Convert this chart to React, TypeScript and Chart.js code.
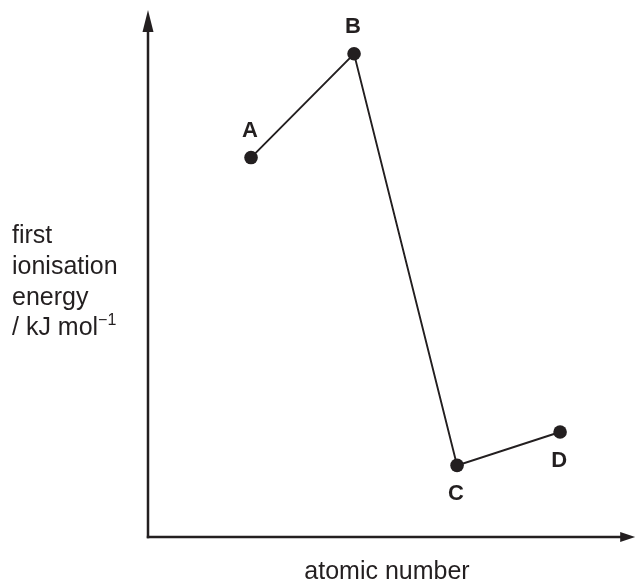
import React, { useEffect, useRef } from "react";
import { Chart, registerables } from "chart.js";

Chart.register(...registerables);

// ---- data ----
const pointLabels = ["A", "B", "C", "D"];
const atomicNumbers = [1, 2, 3, 4];
const ionisationEnergies = [1590, 2025, 300, 440];
const labelPlacement = ["above", "above", "below", "below"];
const yTitleLines = ["first", "ionisation", "energy", "/ kJ mol"];
const yTitleSuperscript = "\u22121";
const xTitle = "atomic number";

const INK = "#231f20";
const FONT = "'Liberation Sans', Arial, Helvetica, sans-serif";

const axesPlugin = {
  id: "schematicAxes",
  afterDatasetsDraw(chart: any) {
    const { ctx, chartArea } = chart;
    const { left, right, top, bottom } = chartArea;
    ctx.save();
    ctx.strokeStyle = INK;
    ctx.fillStyle = INK;
    ctx.lineWidth = 2.5;
    ctx.lineCap = "butt";
    // y axis
    ctx.beginPath();
    ctx.moveTo(left, bottom + 1.2);
    ctx.lineTo(left, top + 16);
    ctx.stroke();
    ctx.beginPath();
    ctx.moveTo(left, top - 2);
    ctx.lineTo(left - 5.5, top + 20);
    ctx.lineTo(left + 5.5, top + 20);
    ctx.closePath();
    ctx.fill();
    // x axis
    ctx.beginPath();
    ctx.moveTo(left - 1.2, bottom);
    ctx.lineTo(right - 8, bottom);
    ctx.stroke();
    ctx.beginPath();
    ctx.moveTo(right + 3, bottom);
    ctx.lineTo(right - 12, bottom - 5);
    ctx.lineTo(right - 12, bottom + 5);
    ctx.closePath();
    ctx.fill();

    // point labels
    const meta = chart.getDatasetMeta(0);
    ctx.font = `bold 22px ${FONT}`;
    ctx.textAlign = "center";
    ctx.textBaseline = "middle";
    meta.data.forEach((pt: any, i: number) => {
      const dy = labelPlacement[i] === "above" ? -27 : 29;
      ctx.fillText(pointLabels[i], pt.x - 1, pt.y + dy);
    });

    // y title (left, multi-line)
    ctx.font = `25px ${FONT}`;
    ctx.textAlign = "left";
    ctx.textBaseline = "alphabetic";
    const baselines = [243, 274, 305, 335];
    yTitleLines.forEach((line, i) => {
      ctx.fillText(line, 12, baselines[i]);
    });
    const w = ctx.measureText(yTitleLines[yTitleLines.length - 1]).width;
    ctx.font = `16px ${FONT}`;
    ctx.fillText(yTitleSuperscript, 12 + w, baselines[3] - 10);

    // x title
    ctx.font = `25px ${FONT}`;
    ctx.textAlign = "center";
    ctx.fillText(xTitle, 387, 579);
    ctx.restore();
  },
};

export default function App() {
  const canvasRef = useRef<HTMLCanvasElement | null>(null);

  useEffect(() => {
    if (!canvasRef.current) return;
    const chart = new Chart(canvasRef.current, {
      type: "line",
      data: {
        datasets: [
          {
            data: atomicNumbers.map((x, i) => ({ x, y: ionisationEnergies[i] })),
            borderColor: INK,
            borderWidth: 1.9,
            pointRadius: 6.8,
            pointBackgroundColor: INK,
            pointBorderWidth: 0,
            tension: 0,
          },
        ],
      },
      options: {
        animation: false,
        responsive: false,
        maintainAspectRatio: false,
        layout: { padding: { left: 148, right: 4, top: 12, bottom: 48 } },
        plugins: {
          legend: { display: false },
          tooltip: { enabled: false },
        },
        scales: {
          x: { type: "linear", min: 0, max: 4.70, display: false },
          y: { type: "linear", min: 0, max: 2200, display: false },
        },
      },
      plugins: [axesPlugin],
    });
    return () => chart.destroy();
  }, []);

  return (
    <div style={{ position: "absolute", left: 0, top: 0, width: 639, height: 585, background: "#fff" }}>
      <canvas ref={canvasRef} width={639} height={585} />
    </div>
  );
}
